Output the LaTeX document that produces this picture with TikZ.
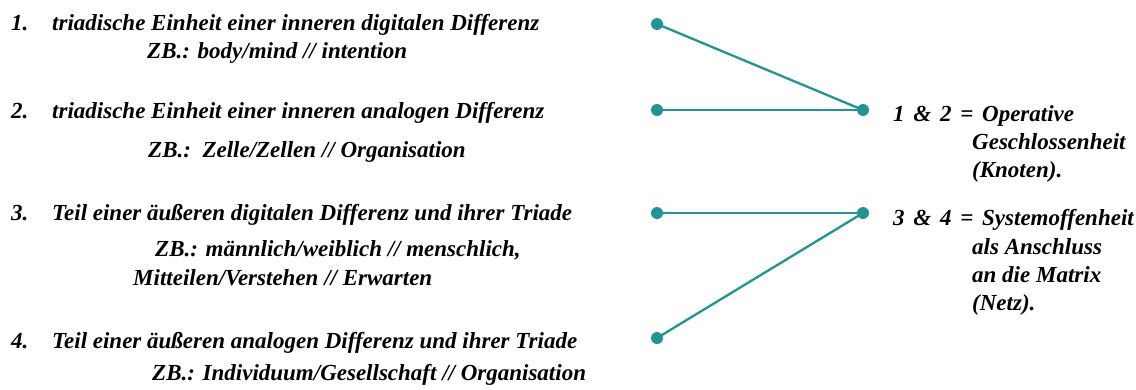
\documentclass[tikz,border=0pt]{standalone}
\usepackage{fontspec}
\setmainfont{Liberation Serif}
\definecolor{teal1}{RGB}{34,148,148}
\tikzset{
  lt/.style={anchor=base west, inner sep=0pt, font=\fontsize{23}{27}\selectfont\bfseries\itshape},
  rt/.style={anchor=base west, inner sep=0pt, font=\fontsize{23}{27}\selectfont\bfseries\itshape},
  dot/.style={circle, fill=teal1, inner sep=0pt, minimum size=12pt},
  conn/.style={draw=teal1, line width=2.3pt}
}
\newcommand{\gp}{\hspace{0.38em}}
\begin{document}
\begin{tikzpicture}[x=1pt,y=-1pt]
\useasboundingbox (0,0) rectangle (1136,389);
% left texts
\node[lt] (n1) at (11,30) {1.};
\node[lt] (t1) at (52,30) {triadische Einheit einer inneren digitalen Differenz};
\node[lt] (z1) at (147,58) {ZB.: body/mind // intention};
\node[lt] (n2) at (11,118) {2.};
\node[lt] (t2) at (52,118) {triadische Einheit einer inneren analogen Differenz};
\node[lt] (z2) at (148,157) {ZB.:\ \ Zelle/Zellen // Organisation};
\node[lt] (n3) at (11,220) {3.};
\node[lt] (t3) at (52,220) {Teil einer äußeren digitalen Differenz und ihrer Triade};
\node[lt] (z3) at (155,256) {ZB.: männlich/weiblich // menschlich,};
\node[lt] (z3b) at (133,285) {Mitteilen/Verstehen // Erwarten};
\node[lt] (n4) at (11,348) {4.};
\node[lt] (t4) at (52,348) {Teil einer äußeren analogen Differenz und ihrer Triade};
\node[lt] (z4) at (152,380) {ZB.: Individuum/Gesellschaft // Organisation};
% dots
\node[dot] (a) at (657,24) {};
\node[dot] (b) at (657,110) {};
\node[dot] (c) at (657,213) {};
\node[dot] (d) at (657,338) {};
\node[dot] (p) at (863,110) {};
\node[dot] (q) at (863,213) {};
\draw[conn] (a.center) -- (p.center);
\draw[conn] (b.center) -- (p.center);
\draw[conn] (c.center) -- (q.center);
\draw[conn] (d.center) -- (q.center);
% right texts
\node[rt] (r1) at (893,121) {1\gp\&\gp2\gp=\gp Operative};
\node[rt] (r2) at (972,149) {Geschlossenheit};
\node[rt] (r3) at (972,177) {(Knoten).};
\node[rt] (s1) at (893,225) {3\gp\&\gp4\gp=\gp Systemoffenheit};
\node[rt] (s2) at (972,254) {als Anschluss};
\node[rt] (s3) at (972,282) {an die Matrix};
\node[rt] (s4) at (972,310) {(Netz).};
\end{tikzpicture}
\end{document}
